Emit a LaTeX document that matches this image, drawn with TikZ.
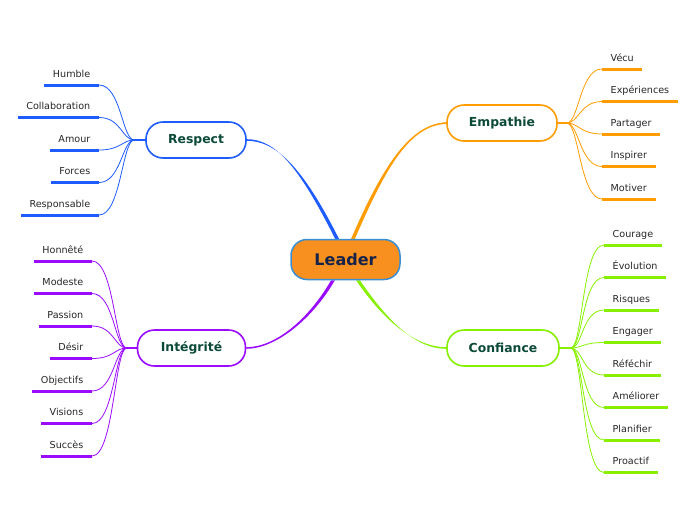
\documentclass[tikz,border=0pt]{standalone}
\usepackage{fontspec}
\setmainfont{DejaVu Sans}
\usetikzlibrary{calc}
\definecolor{mm-blue}{HTML}{1F5CFF}
\definecolor{mm-orange}{HTML}{FF9C00}
\definecolor{mm-purple}{HTML}{9A0BFF}
\definecolor{mm-green}{HTML}{86F000}
\definecolor{mm-core}{HTML}{F7901E}
\definecolor{mm-rim}{HTML}{3A8ED4}
\definecolor{mm-ink}{HTML}{0C4A38}
\definecolor{mm-navy}{HTML}{15234A}
\pgfdeclarelayer{bg}
\pgfsetlayers{bg,main}

% tapered trunk from the centre to a branch
\newcommand{\trunk}[5]{%
  \fill[#1] ($(#2)+(-1.9,0)$) .. controls ($#3+(-1.9,0)$) and ($#4+(0,-0.8)$) .. ($(#5)+(0,-0.8)$)
    -- ($(#5)+(0,0.8)$) .. controls ($#4+(0,0.8)$) and ($#3+(1.9,0)$) .. ($(#2)+(1.9,0)$) -- cycle;}

\begin{document}
\begin{tikzpicture}[x=1pt, y=-1pt, line join=round,
    core/.style={draw=mm-rim, fill=mm-core, line width=1.5pt, rounded corners=16pt,
      minimum width=109pt, minimum height=40pt, text=mm-navy,
      font=\bfseries\fontsize{16}{19}\selectfont},
    topic/.style={fill=white, line width=1.6pt, rounded corners=17pt,
      minimum height=36pt, inner xsep=4pt, text=mm-ink,
      font=\bfseries\fontsize{12.4}{14}\selectfont},
    leaf/.style={inner xsep=8.5pt, inner ysep=5.5pt, text height=7pt, text depth=2pt,
      text=black!85, font=\fontsize{9.6}{11}\selectfont},
    bar/.style={line width=3pt, line cap=butt},
    twig/.style={line width=0.8pt, line cap=round},
    stub/.style={line width=1.5pt}]
    % frame
    \useasboundingbox (0,0) rectangle (696,520);

    % centre
    \node[core] (leader) at (345.5,259.5) {Leader};

    % branches
    \node[topic, draw=mm-blue, minimum width=100pt] (respect) at (196,140) {Respect};
    \node[topic, draw=mm-orange, minimum width=110pt] (empathie) at (502,123) {Empathie};
    \node[topic, draw=mm-purple, minimum width=108pt] (integrite) at (191.5,348) {Intégrité};
    \node[topic, draw=mm-green, minimum width=112pt] (confiance) at (503,348) {Confiance};

    % trunks
    \coordinate (t-re) at ([xshift=-8.5pt]leader.north);
    \coordinate (t-em) at ([xshift=7.5pt]leader.north);
    \coordinate (t-in) at ([xshift=-12.5pt]leader.south);
    \coordinate (t-co) at ([xshift=12.5pt]leader.south);
    \begin{pgfonlayer}{bg}
    \trunk{mm-blue}{t-re}{(300,165)}{(275,140)}{respect.east}
    \trunk{mm-orange}{t-em}{(385,165)}{(410,125)}{empathie.west}
    \trunk{mm-purple}{t-in}{(310,320)}{(275,348)}{integrite.east}
    \trunk{mm-green}{t-co}{(385,320)}{(415,348)}{confiance.west}
    \end{pgfonlayer}

    % respect leaves
    \coordinate (re-o) at ([xshift=-11pt]respect.west);
    \draw[stub, mm-blue] (respect.west) -- (re-o);
    \foreach \txt [count=\i] in {Humble, Collaboration, Amour, Forces, Responsable}{
      \node[leaf, anchor=south east] (re-\i) at (99,{52.5+32.5*\i}) {\txt};
      \draw[bar, mm-blue] (re-\i.south west) -- (re-\i.south east);
      \draw[twig, mm-blue] (re-o) .. controls +(-12,0) and +(22,0) .. (re-\i.south east);
    }

    % empathie leaves
    \coordinate (em-o) at ([xshift=9pt]empathie.east);
    \draw[stub, mm-orange] (empathie.east) -- (em-o);
    \foreach \txt [count=\i] in {Vécu, Expériences, Partager, Inspirer, Motiver}{
      \node[leaf, anchor=south west] (em-\i) at (602,{36.5+32.5*\i}) {\txt};
      \draw[bar, mm-orange] (em-\i.south west) -- (em-\i.south east);
      \draw[twig, mm-orange] (em-o) .. controls +(12,0) and +(-22,0) .. (em-\i.south west);
    }

    % integrite leaves
    \coordinate (in-o) at ([xshift=-10pt]integrite.west);
    \draw[stub, mm-purple] (integrite.west) -- (in-o);
    \foreach \txt [count=\i] in {Honnêté, Modeste, Passion, Désir, Objectifs, Visions, Succès}{
      \node[leaf, anchor=south east] (in-\i) at (92,{228.5+32.5*\i}) {\txt};
      \draw[bar, mm-purple] (in-\i.south west) -- (in-\i.south east);
      \draw[twig, mm-purple] (in-o) .. controls +(-12,0) and +(22,0) .. (in-\i.south east);
    }

    % confiance leaves
    \coordinate (co-o) at ([xshift=11pt]confiance.east);
    \draw[stub, mm-green] (confiance.east) -- (co-o);
    \foreach \txt [count=\i] in {Courage, Évolution, Risques, Engager, Réféchir, Améliorer, Planifier, Proactif}{
      \node[leaf, anchor=south west] (co-\i) at (604,{212.5+32.5*\i}) {\txt};
      \draw[bar, mm-green] (co-\i.south west) -- (co-\i.south east);
      \draw[twig, mm-green] (co-o) .. controls +(12,0) and +(-22,0) .. (co-\i.south west);
    }

\end{tikzpicture}
\end{document}
